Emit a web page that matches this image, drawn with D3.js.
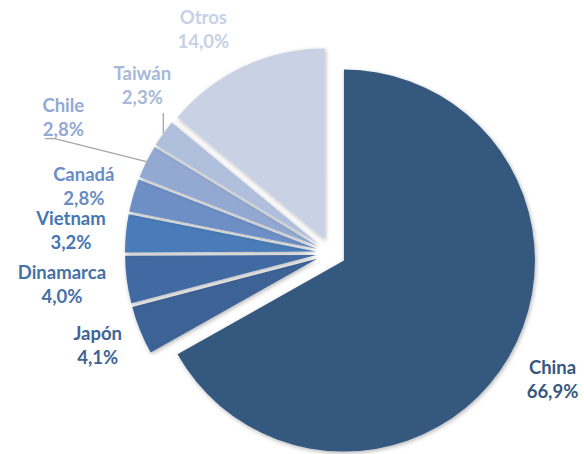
<!DOCTYPE html>
<html>
<head>
<meta charset="utf-8">
<script src="https://cdn.jsdelivr.net/npm/d3@7"></script>
<style>
  body { margin: 0; background: #fff; }
  text { font-family: Lato, "Open Sans", sans-serif; font-weight: bold; }
</style>
</head>
<body>
<svg width="584" height="454"></svg>
<script>
// data
var categories = ["China", "Japón", "Dinamarca", "Vietnam", "Canadá", "Chile", "Taiwán", "Otros"];
var shares = [66.9, 4.1, 4.0, 3.2, 2.8, 2.8, 2.3, 14.0];

var sliceColors = ["#36587f", "#3c6295", "#426ba2", "#4a7bb8", "#6d8fc5", "#93a9d2", "#afbfdc", "#c9d2e5"];
var labelColors = ["#36587f", "#3e6496", "#4570a8", "#4676b2", "#6a8dc6", "#93a8d4", "#a8b8d8", "#c6d0e6"];

// label distance from the centre and a small angle shift (degrees)
var labelRadius = [255, 251, 271, 261, 256, 300, 252, 257];
var labelShift = [-0.6, 0.4, 0.7, -0.5, -1.2, 0.5, 6, -4.6];

var svg = d3.select("svg"),
    cx = 331, cy = 253,
    radius = 191,
    explode = 15;

var locale = d3.formatLocale({ decimal: ",", thousands: ".", grouping: [3], currency: ["", "€"] });
var fmt = locale.format(".1f");

var data = categories.map(function(c, i) {
  return { name: c, share: shares[i], i: i };
});

var pie = d3.pie().sort(null).value(function(d) { return d.share; });
var arcs = pie(data);
var arc = d3.arc().innerRadius(0).outerRadius(radius);

function mid(d) { return (d.startAngle + d.endAngle) / 2; }
function polar(a, r) { return [Math.sin(a) * r, -Math.cos(a) * r]; }

var defs = svg.append("defs");
var f = defs.append("filter").attr("id", "shadow")
  .attr("x", "-20%").attr("y", "-20%").attr("width", "140%").attr("height", "140%");
f.append("feDropShadow")
  .attr("dx", 1).attr("dy", 1.5).attr("stdDeviation", 2)
  .attr("flood-color", "#000").attr("flood-opacity", 0.3);

var g = svg.append("g").attr("transform", "translate(" + cx + "," + cy + ")");

g.selectAll(".slice")
  .data(arcs)
  .enter().append("path")
  .attr("class", "slice")
  .attr("d", arc)
  .attr("fill", function(d) { return sliceColors[d.index]; })
  .attr("filter", "url(#shadow)")
  .attr("transform", function(d) {
    var p = polar(mid(d), explode);
    return "translate(" + p[0] + "," + p[1] + ")";
  });

// labels
var labels = g.selectAll(".label")
  .data(arcs)
  .enter().append("g")
  .attr("class", "label")
  .attr("transform", function(d) {
    var a = mid(d) + labelShift[d.index] * Math.PI / 180;
    var p = polar(a, labelRadius[d.index]);
    d.lx = p[0]; d.ly = p[1];
    return "translate(" + p[0] + "," + p[1] + ")";
  });

labels.append("text")
  .attr("text-anchor", "middle")
  .attr("y", -5.5)
  .attr("fill", function(d) { return labelColors[d.index]; })
  .style("font-size", "18.5px")
  .text(function(d) { return d.data.name; });

labels.append("text")
  .attr("text-anchor", "middle")
  .attr("y", 18.5)
  .attr("fill", function(d) { return labelColors[d.index]; })
  .style("font-size", "18.5px")
  .text(function(d) { return fmt(d.data.share) + "%"; });

// leader lines for Chile and Taiwán
var leaderLine = d3.line();
arcs.forEach(function(d) {
  var end = polar(mid(d), radius + explode);
  var pts = null;
  if (d.data.name === "Chile") {
    pts = [[d.lx - 18.5, d.ly + 21], [d.lx - 8.5, d.ly + 21], end];
  } else if (d.data.name === "Taiwán") {
    pts = [[end[0], d.ly + 27], end];
  }
  if (pts) {
    g.append("path")
      .attr("d", leaderLine(pts))
      .attr("fill", "none")
      .attr("stroke", "#a6a6a6")
      .attr("stroke-width", 1.3);
  }
});
</script>
</body>
</html>
